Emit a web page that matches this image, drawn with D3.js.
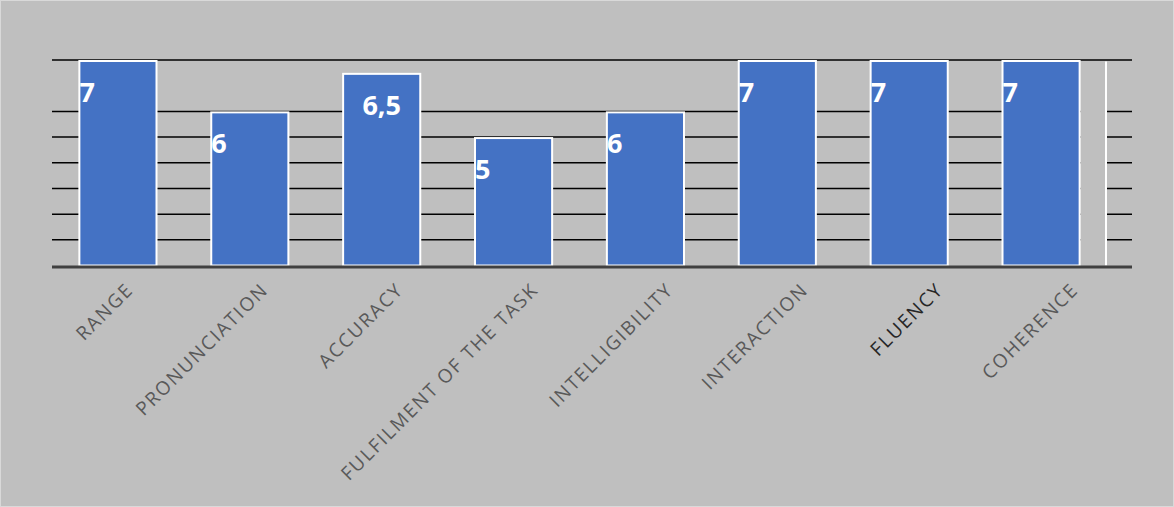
<!DOCTYPE html>
<html>
<head>
<meta charset="utf-8">
<script src="https://cdn.jsdelivr.net/npm/d3@7"></script>
<style>
  html, body { margin: 0; padding: 0; background: #bfbfbf; }
  svg { display: block; }
</style>
</head>
<body>
<svg id="chart" width="1174" height="507"></svg>
<script>
// ---- data ----
const categories = ["RANGE", "PRONUNCIATION", "ACCURACY", "FULFILMENT OF THE TASK",
                    "INTELLIGIBILITY", "INTERACTION", "FLUENCY", "COHERENCE"];
// bar heights as drawn against the gridlines
const barValues = [8, 6, 7.5, 5, 6, 8, 8, 8];
// data labels as printed on the bars
const dataLabels = ["7", "6", "6,5", "5", "6", "7", "7", "7"];
// gridline values (no line at 7 in the original)
const gridValues = [1, 2, 3, 4, 5, 6, 8];
const yMax = 8;

// ---- layout ----
const W = 1174, H = 507;
const plotLeft = 52, plotRight = 1132, barsRight = 1107;
const plotTop = 60, plotBottom = 265.5;

const svg = d3.select("#chart");

svg.append("rect")
  .attr("x", 0.5).attr("y", 0.5).attr("width", W - 1).attr("height", H - 1)
  .attr("fill", "#bfbfbf").attr("stroke", "#d9d9d9").attr("stroke-width", 1);

const x = d3.scaleBand().domain(categories)
  .range([plotLeft, barsRight]).paddingInner(0.4).paddingOuter(0.2);
const xLab = d3.scaleBand().domain(categories).range([plotLeft, plotRight]);
const y = d3.scaleLinear().domain([0, yMax]).range([plotBottom, plotTop]);

// gridlines
svg.append("g").selectAll("line").data(gridValues).join("line")
  .attr("x1", plotLeft).attr("x2", plotRight)
  .attr("y1", d => y(d)).attr("y2", d => y(d))
  .attr("stroke", "#000").attr("stroke-width", 1.5);

// empty slot after the last bar
const lastRight = x(categories[categories.length - 1]) + x.bandwidth();
svg.append("rect")
  .attr("x", lastRight).attr("y", y(yMax) + 1.5)
  .attr("width", barsRight - lastRight).attr("height", y(0) - y(yMax) - 1.5)
  .attr("fill", "#bfbfbf");
svg.append("line")
  .attr("x1", barsRight - 1).attr("x2", barsRight - 1)
  .attr("y1", y(yMax) + 1.5).attr("y2", y(0))
  .attr("stroke", "#fff").attr("stroke-width", 2);

// bars
svg.append("g").selectAll("rect").data(barValues).join("rect")
  .attr("x", (d, i) => x(categories[i]) + 1)
  .attr("y", d => y(d) + 1)
  .attr("width", x.bandwidth() - 2)
  .attr("height", d => y(0) - y(d) - 1)
  .attr("fill", "#4472c4")
  .attr("stroke", "#ffffff").attr("stroke-width", 2);

// baseline
svg.append("line")
  .attr("x1", plotLeft).attr("x2", plotRight)
  .attr("y1", y(0) + 1.5).attr("y2", y(0) + 1.5)
  .attr("stroke", "#404040").attr("stroke-width", 3);

// data labels
svg.append("g").selectAll("text").data(dataLabels).join("text")
  .attr("x", (d, i) => d.length > 1 ? x(categories[i]) + x.bandwidth() / 2 : x(categories[i]) + 1)
  .attr("y", (d, i) => y(barValues[i]) + 42)
  .attr("text-anchor", d => d.length > 1 ? "middle" : "start")
  .attr("font-family", "'Open Sans', sans-serif")
  .attr("font-weight", 700)
  .attr("font-size", 27)
  .attr("fill", "#ffffff")
  .text(d => d);

// category labels
svg.append("g").selectAll("text").data(categories).join("text")
  .attr("transform", d => `translate(${xLab(d) + xLab.bandwidth() / 2 + 15},291) rotate(-45)`)
  .attr("text-anchor", "end")
  .attr("font-family", "'Open Sans', sans-serif")
  .attr("font-size", 19)
  .attr("letter-spacing", 1.8)
  .attr("fill", d => d === "FLUENCY" ? "#262626" : "#595959")
  .text(d => d);
</script>
</body>
</html>
